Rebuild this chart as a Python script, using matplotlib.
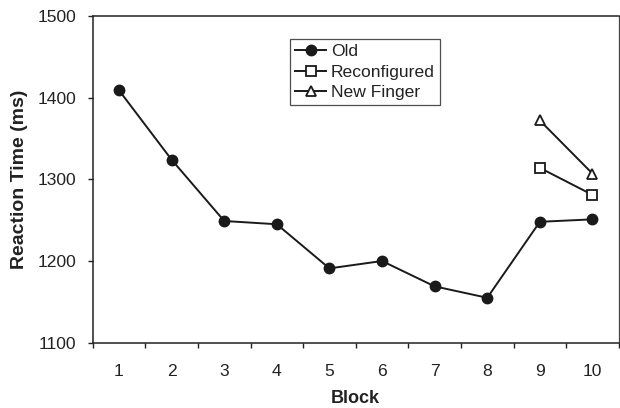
import matplotlib.pyplot as plt
from matplotlib.ticker import FixedLocator

plt.rcParams["font.family"] = ["Liberation Sans", "DejaVu Sans"]

blocks = [1, 2, 3, 4, 5, 6, 7, 8, 9, 10]
old = [1409, 1324, 1249, 1245, 1191, 1200, 1169, 1155, 1248, 1251]
reconf_blocks = [9, 10]
reconf = [1314, 1281]
newfinger_blocks = [9, 10]
newfinger = [1372, 1307]

fig = plt.figure(figsize=(6.2, 4.08), dpi=100)
ax = fig.add_axes([0.1495, 0.160, 0.8485, 0.801])

ax.plot(blocks, old, color="#1a1a1a", lw=1.4, marker="o", ms=7.5,
        mfc="#1a1a1a", mec="#1a1a1a", label="Old")
ax.plot(reconf_blocks, reconf, color="#1a1a1a", lw=1.4, marker="s", ms=6.5,
        mfc="white", mec="#1a1a1a", mew=1.3, label="Reconfigured")
ax.plot(newfinger_blocks, newfinger, color="#1a1a1a", lw=1.4, marker="^", ms=7.5,
        mfc="white", mec="#1a1a1a", mew=1.3, label="New Finger")

ax.set_xlim(0.5, 10.5)
ax.set_ylim(1100, 1500)
ax.set_yticks([1100, 1200, 1300, 1400, 1500])
ax.set_xticks(blocks)
ax.xaxis.set_minor_locator(FixedLocator([b + 0.5 for b in [0] + blocks]))
ax.tick_params(axis="x", which="major", length=0, pad=15, labelsize=12.6, colors="#222222")
ax.tick_params(axis="x", which="minor", length=3.6, width=1, direction="out", color="#222222")
ax.tick_params(axis="y", length=3.6, width=1, direction="out", pad=8, labelsize=12.6,
               colors="#222222")

for side in ["left", "bottom", "top"]:
    ax.spines[side].set_color("#222222")
    ax.spines[side].set_linewidth(1.1)
ax.spines["right"].set_color("#444444")
ax.spines["right"].set_linewidth(0.9)

ax.set_xlabel("Block", fontweight="bold", fontsize=13, labelpad=8.5, color="#222222")
ax.set_ylabel("Reaction Time (ms)", fontweight="bold", fontsize=14, labelpad=7,
              color="#222222")

leg = ax.legend(loc="upper left", bbox_to_anchor=(290 / 620, 1 - 39 / 408),
                bbox_transform=fig.transFigure, frameon=True, fancybox=False,
                fontsize=12.6, handlelength=1.75, handletextpad=0.3,
                borderpad=0.3, labelspacing=0.28, borderaxespad=0)
leg.get_frame().set_edgecolor("#222222")
leg.get_frame().set_linewidth(0.9)
for t in leg.get_texts():
    t.set_color("#222222")

fig.savefig("out.png", dpi=100)
